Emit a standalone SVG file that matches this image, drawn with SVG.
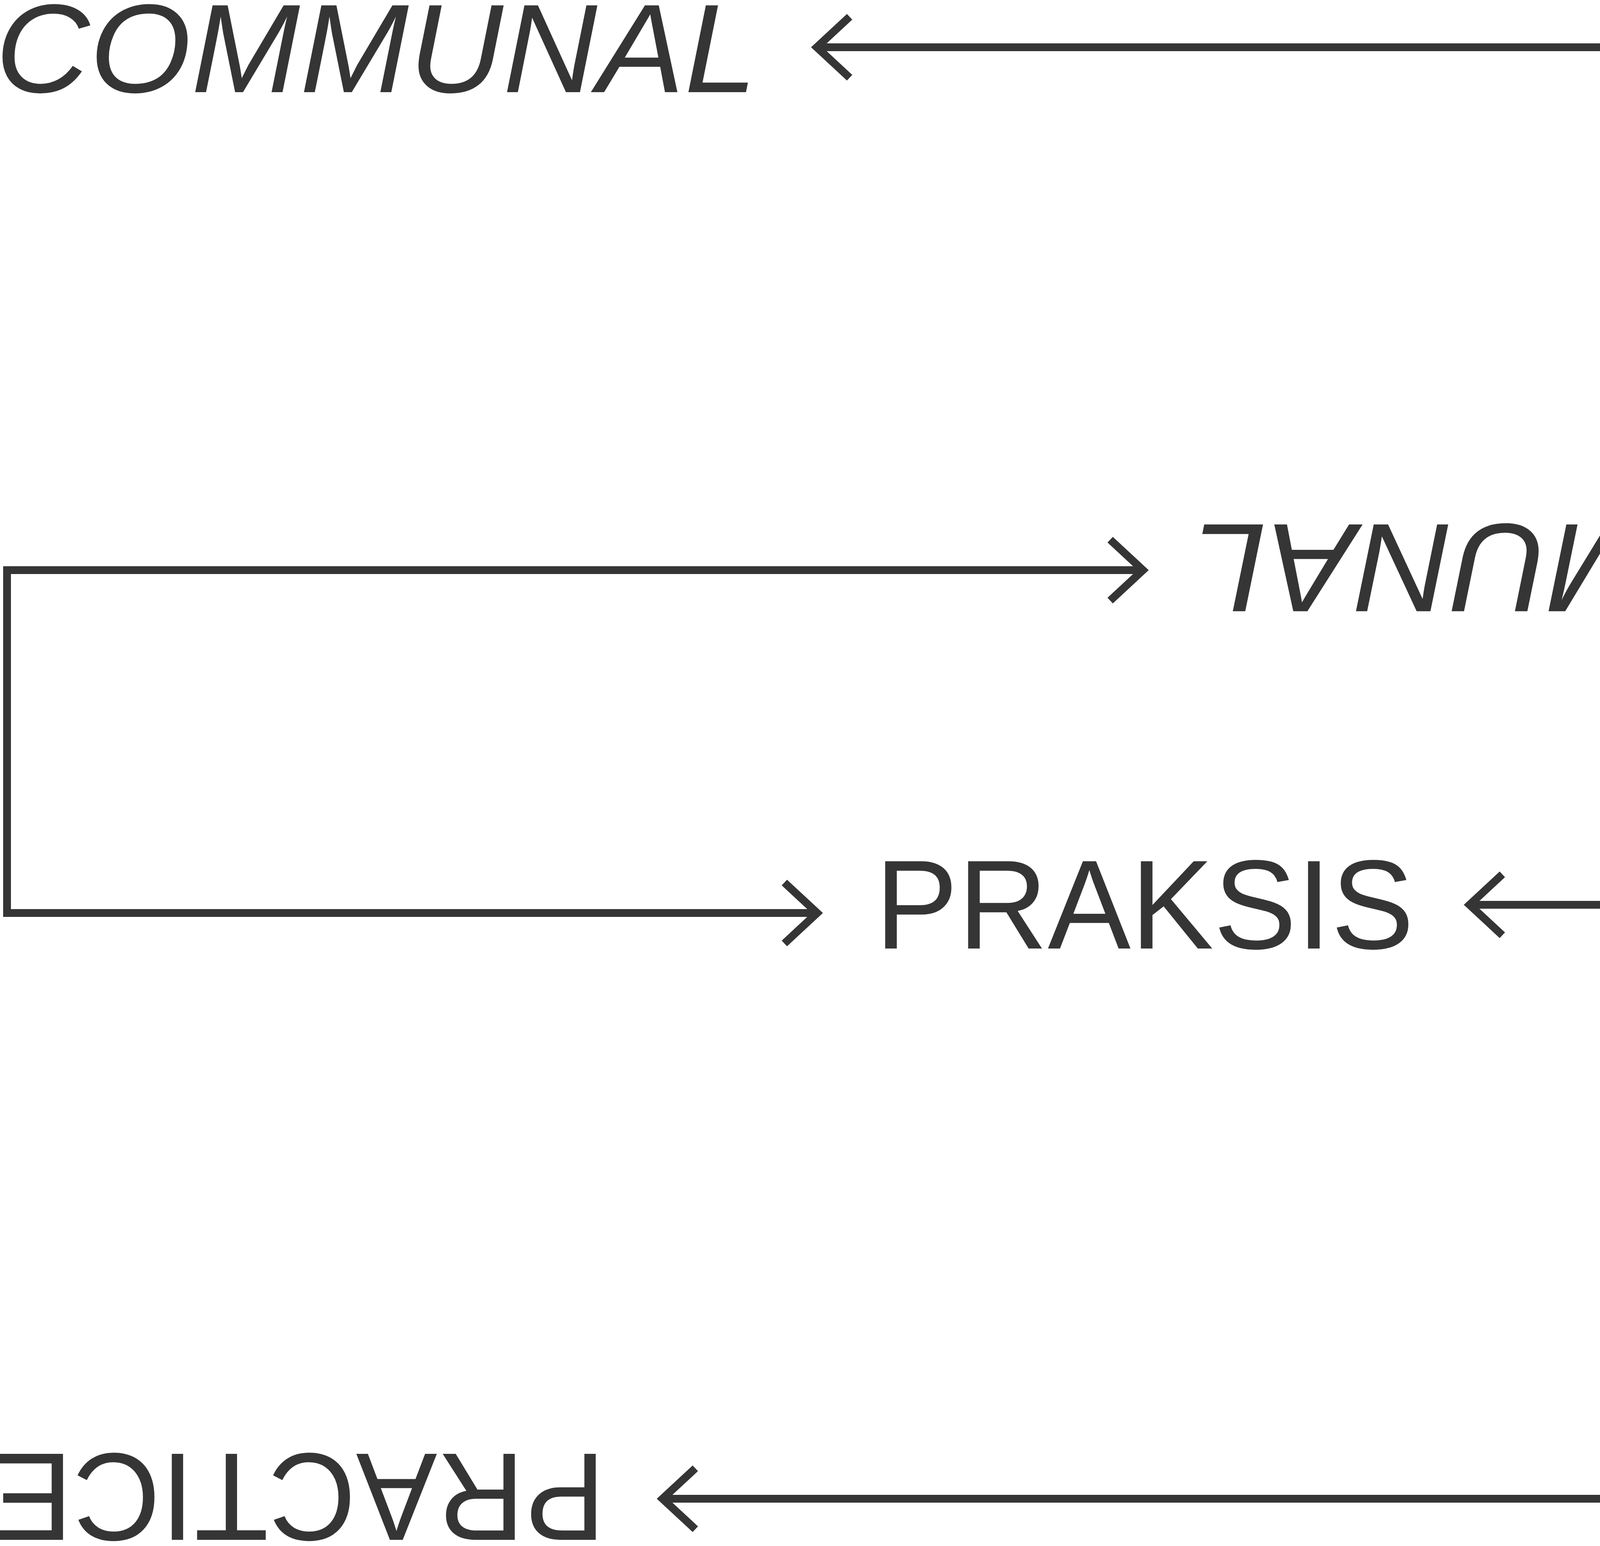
<svg xmlns="http://www.w3.org/2000/svg" width="7312" height="3959" viewBox="0 0 7312 3959">
<style>
.t{font-family:"Liberation Sans",Arial,sans-serif;fill:#353535}
.u{font-size:320px}
.i{font-size:323px;font-style:italic}
.c{fill:none;stroke:#353535;stroke-width:20;stroke-linejoin:miter;stroke-linecap:butt}
</style>
<defs>
<path id="ah" class="c" d="M-99,-78 L-15,0 L-99,78"/>
</defs>
<rect width="7312" height="3959" fill="#ffffff"/>
<g id="communal">
<text class="t i" x="963" y="236" text-anchor="middle" textLength="1950" lengthAdjust="spacingAndGlyphs">COMMUNAL</text>
</g>
<g id="practice-top">
<text class="t u" x="6516" y="235" textLength="623" lengthAdjust="spacingAndGlyphs">PRA</text>
<text class="t u" transform="translate(7076,276) rotate(90)" textLength="944" lengthAdjust="spacingAndGlyphs">CTICE</text>
</g>
<g id="kommunal">
<text class="t i" transform="translate(4040,1343) rotate(180)" text-anchor="middle" textLength="1972" lengthAdjust="spacingAndGlyphs">KOMMUNAL</text>
</g>
<g id="praksis">
<text class="t" style="font-size:325px" x="2930" y="2429" text-anchor="middle" textLength="1380" lengthAdjust="spacingAndGlyphs">PRAKSIS</text>
</g>
<g id="communal-2">
<text class="t i" transform="translate(7071,3208) rotate(90)" text-anchor="middle" textLength="790" lengthAdjust="spacingAndGlyphs">COM</text>
<text class="t i" transform="translate(6637,3722) rotate(180)" text-anchor="middle" textLength="1150" lengthAdjust="spacingAndGlyphs">MUNAL</text>
</g>
<g id="practice-bottom">
<text class="t u" transform="translate(765,3723) rotate(180)" text-anchor="middle" textLength="1571" lengthAdjust="spacingAndGlyphs">PRACTICE</text>
</g>
<g id="connectors">
<path class="c" d="M2091,121 H6376"/>
<use href="#ah" transform="translate(2076,121) rotate(180)"/>
<use href="#ah" transform="translate(6391,121)"/>
<path class="c" d="M5142,1460 H7170"/>
<use href="#ah" transform="translate(5127,1460) rotate(180)"/>
<use href="#ah" transform="translate(7185,1460)"/>
<path class="c" d="M2926,1460 H18 V2338 H2092"/>
<use href="#ah" transform="translate(2941,1460)"/>
<use href="#ah" transform="translate(2107,2338)"/>
<path class="c" d="M3762,2317 H7177 V2675"/>
<use href="#ah" transform="translate(3747,2317) rotate(180)"/>
<use href="#ah" transform="translate(7177,2690) rotate(90)"/>
<path class="c" d="M1696,3838 H5956"/>
<use href="#ah" transform="translate(1681,3838) rotate(180)"/>
<use href="#ah" transform="translate(5971,3838)"/>
</g>
</svg>
